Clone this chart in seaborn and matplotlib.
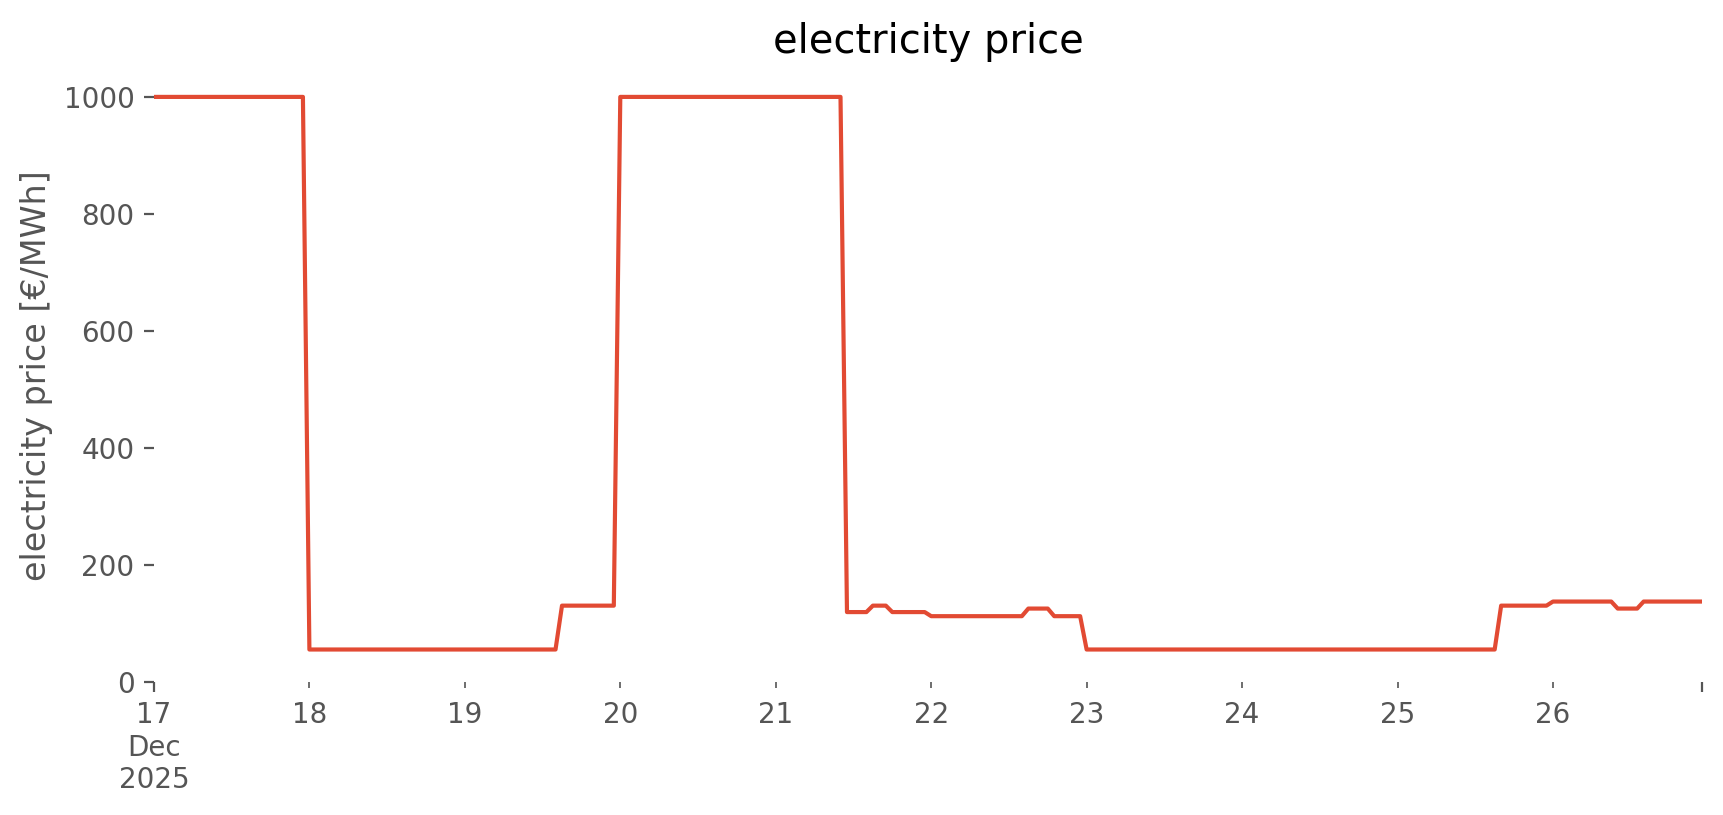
import numpy as np
import pandas as pd
import seaborn as sns
import matplotlib.pyplot as plt

sns.set_theme(style='ticks', rc={
    'axes.titlesize': 14.4, 'axes.labelsize': 12,
    'xtick.labelsize': 10, 'ytick.labelsize': 10,
    'axes.labelcolor': '#555555', 'xtick.color': '#555555', 'ytick.color': '#555555',
    'xtick.major.size': 3.5, 'xtick.minor.size': 2, 'ytick.major.size': 3.5,
    'xtick.major.width': 0.8, 'xtick.minor.width': 0.6, 'ytick.major.width': 0.8,
    'xtick.major.pad': 3.5, 'xtick.minor.pad': 5.0, 'ytick.major.pad': 3.5,
    'axes.labelpad': 4.0, 'lines.linewidth': 1.5,
})
plt.rcParams['font.family'] = ['DejaVu Sans']

# hourly day-ahead price [EUR/MWh], one list per day (00:00 .. 23:00)
dec17 = [1000] * 24
dec18 = [55] * 24
dec19 = [55] * 15 + [130] * 9
dec20 = [1000] * 24
dec21 = [1000] * 11 + [119] * 4 + [130] * 3 + [119] * 6
dec22 = [112] * 15 + [125] * 4 + [112] * 5
dec23 = [55] * 24
dec24 = [55] * 24
dec25 = [55] * 16 + [130] * 8
dec26 = [137] * 10 + [125] * 4 + [137] * 10

days = [dec17, dec18, dec19, dec20, dec21, dec22, dec23, dec24, dec25, dec26]
price = [v for d in days for v in d]
df = pd.DataFrame({'time': pd.date_range('2025-12-17', periods=len(price), freq='h'),
                   'price': price})

fig = plt.figure(figsize=(8.62, 4.075), dpi=200)
ax = fig.add_axes([0.0893, 0.1636, 0.8979, 0.7514])
sns.lineplot(data=df, x='time', y='price', ax=ax, color='#E24A33')
sns.despine(ax=ax, left=True, bottom=True)

start, end = df.time.iloc[0], df.time.iloc[-1]
ax.set_xlim(start, end)
ax.set_ylim(bottom=0)
ax.set_xticks([start, end], labels=['17\nDec\n2025', ''])
day_ticks = pd.date_range('2025-12-18', '2025-12-26', freq='D')
ax.set_xticks(day_ticks, labels=[str(d.day) for d in day_ticks], minor=True)
ax.set_yticks([0, 200, 400, 600, 800, 1000])

ax.set_xlabel('')
ax.set_ylabel('electricity price [€/MWh]')
ax.set_title('electricity price', color='black')

fig.savefig('out.png', dpi=200)
